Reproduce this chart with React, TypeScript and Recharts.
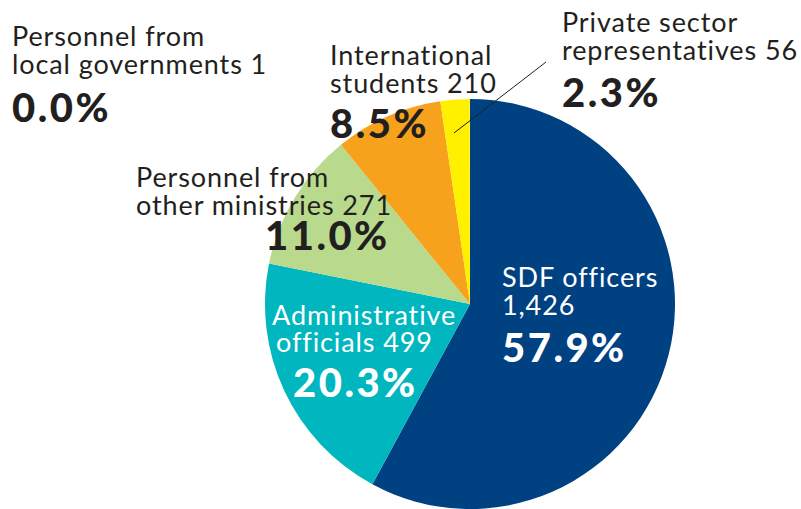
import { PieChart, Pie, Cell } from 'recharts';

const groups = [
  'SDF officers',
  'Administrative officials',
  'Personnel from other ministries',
  'International students',
  'Private sector representatives',
  'Personnel from local governments',
];
const counts = [1426, 499, 271, 210, 56, 1];
const shares = ['57.9%', '20.3%', '11.0%', '8.5%', '2.3%', '0.0%'];
const labelLines = [
  ['SDF officers', '1,426'],
  ['Administrative', 'officials 499'],
  ['Personnel from', 'other ministries 271'],
  ['International', 'students 210'],
  ['Private sector', 'representatives 56'],
  ['Personnel from', 'local governments 1'],
];
const colors = ['#004182', '#00b7bf', '#b9da8c', '#f6a21d', '#fff000', '#fff000'];

const data = groups.map((name, i) => ({ name, value: counts[i] }));

// label placement relative to pie centre: x of each text line, baselines
const labelPos = [
  { xs: [32, 32, 32], ys: [-17, 11, 58], fill: '#fff' },
  { xs: [-198, -194, -177], ys: [21, 48, 93], fill: '#fff' },
  { xs: [-334, -334, -205], ys: [-117, -89, -54], fill: '#231f20' },
  { xs: [-140, -140, -140], ys: [-239, -211, -166], fill: '#231f20' },
  { xs: [92, 92, 92], ys: [-272, -244, -197], fill: '#231f20' },
  { xs: [-458, -458, -458], ys: [-258, -230, -182], fill: '#231f20' },
];

const FONT = 'Lato, "Noto Sans", sans-serif';

const renderLabel = (props: any) => {
  const { cx, cy, index } = props;
  const p = labelPos[index];
  const lines = labelLines[index];
  return (
    <g key={`lbl-${index}`}>
      {index === 4 && (
        <line x1={cx - 16} y1={cy - 171} x2={cx + 76} y2={cy - 242} stroke="#231f20" strokeWidth={1} />
      )}
      {lines.map((t, j) => (
        <text key={j} x={cx + p.xs[j]} y={cy + p.ys[j]} fill={p.fill} fontSize={27} letterSpacing={0.9} fontFamily={FONT} textAnchor="start">
          {t}
        </text>
      ))}
      <text x={cx + p.xs[2]} y={cy + p.ys[2]} fill={p.fill} fontSize={40} letterSpacing={2.5} fontWeight={900} fontFamily={FONT} textAnchor="start">
        {shares[index]}
      </text>
    </g>
  );
};

export default function App() {
  return (
    <div style={{ position: 'absolute', left: 0, top: 0, width: 801, height: 509, background: '#fff' }}>
      <PieChart width={801} height={509} margin={{ top: 0, right: 0, bottom: 0, left: 0 }}>
        <Pie
          data={data}
          dataKey="value"
          nameKey="name"
          cx={470}
          cy={304}
          outerRadius={205}
          startAngle={90}
          endAngle={-270}
          stroke="none"
          label={renderLabel}
          labelLine={false}
          isAnimationActive={false}
        >
          {data.map((d, i) => (
            <Cell key={d.name} fill={colors[i]} />
          ))}
        </Pie>
      </PieChart>
    </div>
  );
}
